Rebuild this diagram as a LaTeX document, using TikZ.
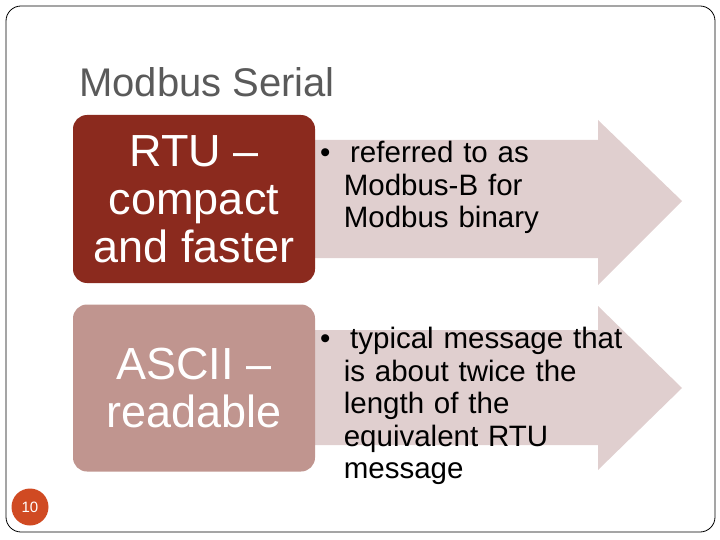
\documentclass[tikz,border=0pt]{standalone}
\usepackage{fontspec}
\setmainfont{Liberation Sans}
\begin{document}
\begin{tikzpicture}[x=1pt,y=-1pt,
  frame/.style={draw=black,rounded corners=15pt,line width=0.8pt},
  boxrtu/.style={fill=rtured,draw=none,rounded corners=14pt},
  boxascii/.style={fill=asciired,draw=none,rounded corners=14pt},
  boxtext/.style={text=white,font=\fontsize{45}{48}\selectfont,align=center},
  bullettext/.style={anchor=north west,align=left,font=\fontsize{29.5}{32.5}\selectfont,text width=400pt,inner sep=0pt}]
\definecolor{arrowpink}{HTML}{E0CFCF}
\definecolor{rtured}{HTML}{8B2A1E}
\definecolor{asciired}{HTML}{C0958F}
\definecolor{pagenum}{HTML}{D04A22}
\definecolor{titlegray}{HTML}{5A5A5A}
\useasboundingbox (0,0) rectangle (720,540);
\draw[frame] (6,6) rectangle (715,532);
\node[anchor=west,text=titlegray,font=\fontsize{40}{44}\selectfont,inner sep=0pt] (title) at (79,82) {Modbus Serial};
\fill[arrowpink] (300,140) -- (598,140) -- (598,120) -- (682,201) -- (598,285) -- (598,258) -- (300,258) -- cycle;
\fill[arrowpink] (300,330) -- (598,330) -- (598,306) -- (682,388) -- (598,470) -- (598,445) -- (300,445) -- cycle;
\node[boxrtu,minimum width=242pt,minimum height=168pt] (rtu) at (194,199) {};
\node[boxtext] (rtut) at (rtu) {RTU –\\compact\\and faster};
\node[boxascii,minimum width=242pt,minimum height=167pt] (ascii) at (194,388) {};
\node[boxtext] (asciit) at (ascii) {ASCII –\\readable};
\node[bullettext] (b1) at (320,141) {\textbullet\ \ referred to as\\\hspace*{0.8em}Modbus-B for\\\hspace*{0.8em}Modbus binary};
\node[bullettext] (b2) at (320,327) {\textbullet\ \ typical message that\\\hspace*{0.8em}is about twice the\\\hspace*{0.8em}length of the\\\hspace*{0.8em}equivalent RTU\\\hspace*{0.8em}message};
\node[circle,fill=pagenum,minimum size=37pt,inner sep=0pt,text=white,font=\fontsize{15}{16}\selectfont] (num) at (30,507) {10};
\end{tikzpicture}
\end{document}
